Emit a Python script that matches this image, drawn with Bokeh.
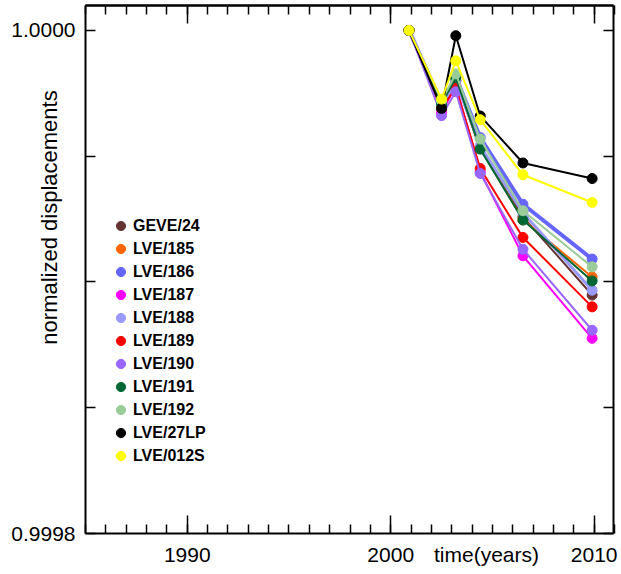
from bokeh.plotting import figure
from bokeh.models import LinearAxis, FixedTicker, Range1d, Legend, LegendItem, Label
from bokeh.embed import file_html
from bokeh.resources import INLINE
import math

# ---- data ----
years = [2000.9, 2002.5, 2003.2, 2004.4, 2006.5, 2009.9]

names = ["GEVE/24", "LVE/185", "LVE/186", "LVE/187", "LVE/188", "LVE/189",
         "LVE/190", "LVE/191", "LVE/192", "LVE/27LP", "LVE/012S"]
colors = ["#663333", "#FF6600", "#6666FF", "#FF00FF", "#9999FF", "#FF0000",
          "#9966FF", "#006633", "#99CC99", "#000000", "#FFFF00"]
widths = [2, 2, 4, 2, 3, 2, 2, 2, 2, 2, 2]

GEVE_24 = [1.0, 0.9999700, 0.9999800, 0.9999530, 0.9999259, 0.9998948]
LVE_185 = [1.0, 0.9999704, 0.9999800, 0.9999533, 0.9999247, 0.9999020]
LVE_186 = [1.0, 0.9999712, 0.9999816, 0.9999574, 0.9999309, 0.9999091]
LVE_187 = [1.0, 0.9999673, 0.9999780, 0.9999438, 0.9999104, 0.9998776]
LVE_188 = [1.0, 0.9999696, 0.9999800, 0.9999541, 0.9999275, 0.9998967]
LVE_189 = [1.0, 0.9999689, 0.9999773, 0.9999451, 0.9999177, 0.9998901]
LVE_190 = [1.0, 0.9999661, 0.9999756, 0.9999431, 0.9999130, 0.9998808]
LVE_191 = [1.0, 0.9999708, 0.9999812, 0.9999528, 0.9999246, 0.9999004]
LVE_192 = [1.0, 0.9999720, 0.9999827, 0.9999568, 0.9999283, 0.9999060]
LVE_27LP = [1.0, 0.9999690, 0.9999979, 0.9999660, 0.9999473, 0.9999411]
LVE_012S = [1.0, 0.9999727, 0.9999879, 0.9999645, 0.9999426, 0.9999316]

series = [GEVE_24, LVE_185, LVE_186, LVE_187, LVE_188, LVE_189,
          LVE_190, LVE_191, LVE_192, LVE_27LP, LVE_012S]

x_major_ticks = [1990, 2000, 2010]
x_minor_ticks = list(range(1985, 2012))
y_label_ticks = [0.9998, 1.0]
y_tick_labels = ["0.9998", "1.0000"]
y_unlabeled_ticks = [0.99985, 0.9999, 0.99995]

x_title = "time(years)"
y_title = "normalized displacements"

FONT = "Liberation Sans"

# ---- layout geometry (pixels) ----
W, H = 621, 574
BOX_L, BOX_R, BOX_T, BOX_B = 85, 613, 5, 533
X_START, X_END = 1985.0, 2010.95
Y_START, Y_END = 0.9998, 1.0000099

sx = (BOX_R - BOX_L) / (X_END - X_START)
sy = (BOX_B - BOX_T) / (Y_END - Y_START)
x_lo = X_START - BOX_L / sx
x_hi = X_END + (W - BOX_R) / sx
y_lo = Y_START - (H - BOX_B) / sy
y_hi = Y_END + BOX_T / sy

p = figure(width=W, height=H, output_backend="svg", toolbar_location=None,
           x_range=Range1d(x_lo, x_hi), y_range=Range1d(y_lo, y_hi),
           min_border=0, x_axis_type=None, y_axis_type=None)
p.grid.visible = False
p.background_fill_color = "white"
p.border_fill_color = "white"
p.outline_line_color = None


def make_axis(side, ticker, loc, bounds, major_in, minor_in, **kw):
    ax = LinearAxis(ticker=ticker, fixed_location=loc, bounds=bounds, **kw)
    ax.axis_line_color = "black"
    ax.axis_line_width = 2
    ax.major_tick_in = major_in
    ax.major_tick_out = 0
    ax.minor_tick_in = minor_in
    ax.minor_tick_out = 0
    ax.major_tick_line_width = 1.5
    ax.minor_tick_line_width = 1.5
    ax.major_tick_line_color = "black"
    ax.minor_tick_line_color = "black"
    ax.major_label_text_font = FONT
    ax.major_label_text_font_size = "21px"
    ax.major_label_text_color = "black"
    p.add_layout(ax, side)
    return ax


XB = (X_START, X_END)
YB = (Y_START, Y_END)

# bottom: labelled years
xb = make_axis("below", FixedTicker(ticks=x_major_ticks, minor_ticks=x_minor_ticks),
               Y_START, XB, 18, 9)
xb.major_label_standoff = 14

# top: tick marks only (no labels)
make_axis("above", FixedTicker(ticks=[], minor_ticks=x_minor_ticks), Y_END, XB, 0, 9)
make_axis("above", FixedTicker(ticks=[], minor_ticks=x_major_ticks), Y_END, XB, 0, 18)

# left: labelled ends, unlabelled inner ticks
overrides = {t: lab for t, lab in zip(y_label_ticks, y_tick_labels)}
yl = make_axis("left", FixedTicker(ticks=y_label_ticks, minor_ticks=y_unlabeled_ticks),
               X_START, YB, 10, 10, major_label_overrides=overrides)
yl.major_label_standoff = 10

# right: tick marks only
make_axis("right", FixedTicker(ticks=[], minor_ticks=y_label_ticks + y_unlabeled_ticks),
          X_END, YB, 0, 10)

items = []
for name, col, w, vals in zip(names, colors, widths, series):
    p.line(years, vals, line_color=col, line_width=w)
    r = p.scatter(years, vals, marker="circle", size=10, fill_color=col, line_color=col)
    items.append(LegendItem(label=name, renderers=[r]))

legend = Legend(items=items, location=(108, 107), padding=0, margin=0, spacing=0,
                glyph_width=25, glyph_height=23, label_standoff=0, label_height=20,
                label_text_font=FONT, label_text_font_style="bold",
                label_text_font_size="16px", label_text_color="black",
                background_fill_alpha=0, border_line_alpha=0)
p.add_layout(legend, "center")

p.add_layout(Label(x=49, y=357, x_units="screen", y_units="screen", text=y_title,
                   angle=math.pi / 2, text_align="center", text_baseline="middle",
                   text_font=FONT, text_font_size="22px", text_color="black"))
p.add_layout(Label(x=486, y=20, x_units="screen", y_units="screen", text=x_title,
                   text_align="center", text_baseline="middle",
                   text_font=FONT, text_font_size="21px", text_color="black"))

open("out.html", "w").write(file_html(p, INLINE))
